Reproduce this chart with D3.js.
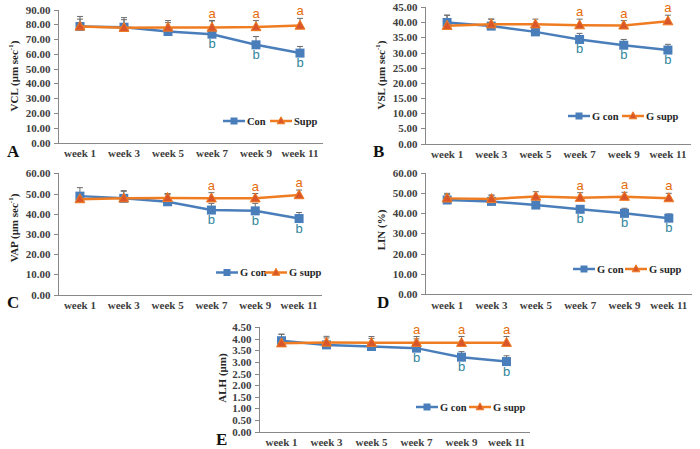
<!DOCTYPE html>
<html lang="en">
<head>
<meta charset="utf-8">
<title>Sperm motility over weeks</title>
<script src="https://d3js.org/d3.v7.min.js"></script>
<style>
  body { margin: 0; background: #fff; }
  svg text { font-family: "Liberation Serif", "DejaVu Serif", serif; font-weight: bold; }
  .axis text { font-size: 11px; fill: #404040; }
  .axis path, .axis line { stroke: #888; stroke-width: 1px; shape-rendering: crispEdges; }
  .sig { font-family: "Liberation Sans", "Open Sans", sans-serif !important; font-weight: normal !important; font-size: 13px; }
</style>
</head>
<body>
<div id="chart"></div>
<script>
// week categories, shared by all panels
var weeks = ["week 1", "week 3", "week 5", "week 7", "week 9", "week 11"];

// significance letters
var suppLetters = ["", "", "", "a", "a", "a"];
var conLetters  = ["", "", "", "b", "b", "b"];

// A - VCL
var vclCon      = [78.5, 78.0, 75.1, 73.3, 66.1, 60.5];
var vclConErr   = [6.8, 6.5, 6.0, 9.0, 5.6, 4.5];
var vclSupp     = [78.5, 77.6, 77.8, 77.8, 78.1, 79.1];
var vclSuppErr  = [5.0, 5.5, 4.7, 4.7, 4.4, 4.9];

// B - VSL
var vslCon      = [39.9, 38.7, 36.8, 34.3, 32.4, 30.8];
var vslConErr   = [2.4, 2.3, 2.5, 2.0, 1.9, 1.9];
var vslSupp     = [38.8, 39.3, 39.3, 39.0, 38.9, 40.3];
var vslSuppErr  = [3.5, 1.7, 1.7, 2.0, 1.6, 2.0];

// C - VAP
var vapCon      = [48.7, 47.6, 45.9, 41.8, 41.4, 37.6];
var vapConErr   = [4.2, 3.5, 3.5, 3.3, 3.7, 3.0];
var vapSupp     = [47.2, 47.6, 47.8, 47.6, 47.6, 49.2];
var vapSuppErr  = [3.0, 3.8, 2.2, 2.8, 2.4, 2.5];

// D - LIN
var linCon      = [46.5, 45.8, 44.0, 41.9, 39.9, 37.5];
var linConErr   = [2.8, 2.8, 3.0, 1.7, 2.5, 2.1];
var linSupp     = [47.3, 47.0, 48.2, 47.6, 48.1, 47.4];
var linSuppErr  = [2.5, 2.0, 2.4, 2.5, 2.2, 2.4];

// E - ALH
var alhCon      = [3.92, 3.74, 3.67, 3.60, 3.21, 3.02];
var alhConErr   = [0.28, 0.30, 0.35, 0.40, 0.24, 0.25];
var alhSupp     = [3.81, 3.84, 3.83, 3.83, 3.83, 3.83];
var alhSuppErr  = [0.39, 0.27, 0.27, 0.27, 0.27, 0.27];

var blue = "#4a7ebb", orange = "#f07c22", triFill = "#d9562a";
var aColor = "#e46c0a", bColor = "#31859c", errColor = "#6b6b6b";

var w = 700, h = 449;
var svg = d3.select("#chart").append("svg").attr("width", w).attr("height", h);

// layout of each panel (pixel frame + data)
var panels = [
  {letter: "A", lx: 7,   ly: 157, title: "VCL", unit: "sec", x: [58, 322], y: [142.5, 9.5], max: 90, step: 10,
   con: vclCon, conErr: vclConErr, supp: vclSupp, suppErr: vclSuppErr, names: ["Con", "Supp"],
   legX: [223, 270], legY: 121, tx: 15, ty: 76},
  {letter: "B", lx: 373, ly: 157, title: "VSL", unit: "sec", x: [425, 690], y: [143.5, 7], max: 45, step: 5,
   con: vslCon, conErr: vslConErr, supp: vslSupp, suppErr: vslSuppErr, names: ["G con", "G supp"],
   legX: [568, 622], legY: 116, tx: 382, ty: 75},
  {letter: "C", lx: 7,   ly: 308, title: "VAP", unit: "sec", x: [58, 321], y: [294.5, 173.3], max: 60, step: 10,
   con: vapCon, conErr: vapConErr, supp: vapSupp, suppErr: vapSuppErr, names: ["G con", "G supp"],
   legX: [216, 265], legY: 272.5, tx: 15, ty: 228},
  {letter: "D", lx: 377, ly: 308, title: "LIN (%)", unit: null, x: [425, 691], y: [294, 172.7], max: 60, step: 10,
   con: linCon, conErr: linConErr, supp: linSupp, suppErr: linSuppErr, names: ["G con", "G supp"],
   legX: [573, 625], legY: 269, tx: 382, ty: 230},
  {letter: "E", lx: 216, ly: 445, title: "ALH (μm)", unit: null, x: [259, 529], y: [431.5, 327.3], max: 4.5, step: 0.5,
   con: alhCon, conErr: alhConErr, supp: alhSupp, suppErr: alhSuppErr, names: ["G con", "G supp"],
   legX: [416, 469], legY: 407, tx: 223, ty: 378}
];

function drawSquare(g, cx, cy, s) {
  g.append("rect").attr("x", cx - s / 2).attr("y", cy - s / 2)
    .attr("width", s).attr("height", s).attr("fill", blue);
}
function drawTriangle(g, cx, cy, s) {
  g.append("path")
    .attr("d", "M" + cx + "," + (cy - s * 0.6) + "L" + (cx + s * 0.55) + "," + (cy + s * 0.4) +
               "L" + (cx - s * 0.55) + "," + (cy + s * 0.4) + "Z")
    .attr("fill", triFill).attr("stroke", orange).attr("stroke-width", 1);
}

panels.forEach(function(p) {
  var g = svg.append("g");

  var xScale = d3.scaleBand().domain(weeks).range(p.x);
  var yScale = d3.scaleLinear().domain([0, p.max]).range(p.y);
  var cx = function(i) { return xScale(weeks[i]) + xScale.bandwidth() / 2; };

  // y axis
  var ticks = d3.range(0, p.max + p.step / 2, p.step);
  var yAxis = d3.axisLeft(yScale).tickValues(ticks).tickFormat(d3.format(".2f"))
    .tickSizeOuter(0).tickSize(4).tickPadding(3);
  g.append("g").attr("class", "axis")
    .attr("transform", "translate(" + (p.x[0] - 0.5) + ",0)")
    .call(yAxis);

  // x axis (line + labels)
  var xAxis = d3.axisBottom(xScale).tickSize(0).tickSizeOuter(0).tickPadding(7);
  g.append("g").attr("class", "axis")
    .attr("transform", "translate(0," + p.y[0] + ")")
    .call(xAxis);

  // axis title
  var t = g.append("text")
    .attr("transform", "translate(" + p.tx + "," + p.ty + ") rotate(-90)")
    .attr("text-anchor", "middle").attr("dominant-baseline", "middle")
    .style("font-size", "11px").attr("fill", "#262626");
  if (p.unit) {
    t.append("tspan").text(p.title + " (μm " + p.unit);
    t.append("tspan").text("-1").attr("baseline-shift", "super").style("font-size", "7px");
    t.append("tspan").text(")");
  } else {
    t.text(p.title);
  }

  // panel letter
  g.append("text").attr("x", p.lx).attr("y", p.ly).text(p.letter)
    .style("font-size", "17px").attr("fill", "#111");

  var series = [
    {vals: p.con, err: p.conErr, color: blue, marker: "square"},
    {vals: p.supp, err: p.suppErr, color: orange, marker: "triangle"}
  ];

  // error bars (upper only)
  series.forEach(function(s) {
    s.vals.forEach(function(v, i) {
      var x = cx(i), y1 = yScale(v), y2 = yScale(v + s.err[i]);
      g.append("line").attr("x1", x).attr("x2", x).attr("y1", y1).attr("y2", y2)
        .attr("stroke", errColor).attr("stroke-width", 1);
      g.append("line").attr("x1", x - 3).attr("x2", x + 3).attr("y1", y2).attr("y2", y2)
        .attr("stroke", errColor).attr("stroke-width", 1);
    });
  });

  var line = d3.line().x(function(d, i) { return cx(i); }).y(function(d) { return yScale(d); });

  series.forEach(function(s) {
    g.append("path").datum(s.vals).attr("d", line)
      .attr("fill", "none").attr("stroke", s.color).attr("stroke-width", 2.5);
    s.vals.forEach(function(v, i) {
      if (s.marker === "square") drawSquare(g, cx(i), yScale(v), 9);
      else drawTriangle(g, cx(i), yScale(v), 9);
    });
  });

  // significance letters
  p.supp.forEach(function(v, i) {
    if (suppLetters[i]) {
      g.append("text").attr("class", "sig").attr("x", cx(i)).attr("y", yScale(v + p.suppErr[i]) - 3)
        .attr("text-anchor", "middle").attr("fill", aColor).text(suppLetters[i]);
    }
  });
  p.con.forEach(function(v, i) {
    if (conLetters[i]) {
      g.append("text").attr("class", "sig").attr("x", cx(i)).attr("y", yScale(v) + 14)
        .attr("text-anchor", "middle").attr("fill", bColor).text(conLetters[i]);
    }
  });

  // legend
  var legSeries = [
    {name: p.names[0], color: blue, marker: "square"},
    {name: p.names[1], color: orange, marker: "triangle"}
  ];
  legSeries.forEach(function(s, k) {
    var lx = p.legX[k], ly = p.legY;
    g.append("line").attr("x1", lx).attr("x2", lx + 22).attr("y1", ly).attr("y2", ly)
      .attr("stroke", s.color).attr("stroke-width", 2.5);
    if (s.marker === "square") drawSquare(g, lx + 11, ly, 7);
    else drawTriangle(g, lx + 11, ly, 7);
    g.append("text").attr("x", lx + 24).attr("y", ly + 3.5).text(s.name)
      .style("font-size", "10.5px").attr("fill", "#262626");
  });
});
</script>
</body>
</html>
